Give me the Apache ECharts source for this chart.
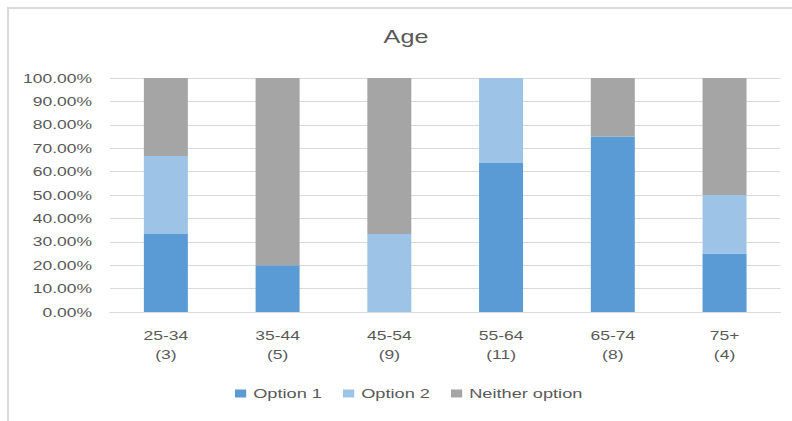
<!DOCTYPE html>
<html>
<head>
<meta charset="utf-8">
<script src="https://cdn.jsdelivr.net/npm/echarts@6/dist/echarts.min.js"></script>
<style>
  html, body { margin: 0; padding: 0; background: #fff; }
  /* The chart is laid out narrower and widened horizontally, which gives
     the broad, stretched lettering of the original figure. */
  #frame { width: 792px; height: 421px; overflow: hidden; position: relative; }
  #chart { width: 565.714px; height: 421px; transform: scaleX(1.4); transform-origin: 0 0; }
</style>
</head>
<body>
<div id="frame"><div id="chart"></div></div>
<script>
// Age groups with respondent counts
const categories = ['25-34\n(3)', '35-44\n(5)', '45-54\n(9)', '55-64\n(11)', '65-74\n(8)', '75+\n(4)'];
// Share of each answer per age group (percent)
const option1 = [33.33, 20, 0, 63.64, 75, 25];
const option2 = [33.33, 0, 33.33, 36.36, 0, 25];
const neither = [33.33, 80, 66.67, 0, 25, 50];
const yTicks = { min: 0, max: 100, interval: 10 };

const STRETCH = 1.4;            // horizontal widening applied by CSS
const px = v => v / STRETCH;    // convert on-screen x distances to layout units

const textColor = '#595959';
const font = 'Liberation Sans, Arial, sans-serif';

const chart = echarts.init(document.getElementById('chart'), null, { renderer: 'svg' });

function barSeries(name, data, color) {
  return {
    name: name,
    type: 'bar',
    stack: 'total',
    barWidth: px(44),
    data: data,
    itemStyle: { color: color },
    emphasis: { disabled: true }
  };
}

chart.setOption({
  animation: false,
  backgroundColor: '#fff',
  title: {
    text: 'Age',
    left: px(399),
    textAlign: 'center',
    top: 23,
    textStyle: { color: textColor, fontSize: 18, fontWeight: 'normal', fontFamily: font }
  },
  legend: {
    top: 382,
    left: px(228),
    itemWidth: 8,
    itemHeight: 8,
    itemGap: px(21),
    icon: 'rect',
    textStyle: { color: textColor, fontSize: 13, fontFamily: font },
    data: ['Option 1', 'Option 2', 'Neither option']
  },
  grid: { left: px(110), right: px(12), top: 78, bottom: 109 },
  xAxis: {
    type: 'category',
    data: categories,
    axisLine: { show: true, lineStyle: { color: '#D9D9D9', width: 1 } },
    axisTick: { show: false },
    axisLabel: { color: textColor, fontSize: 12.5, fontFamily: font, lineHeight: 19, margin: 14 }
  },
  yAxis: {
    type: 'value',
    min: yTicks.min,
    max: yTicks.max,
    interval: yTicks.interval,
    axisLine: { show: false },
    axisTick: { show: false },
    splitLine: { lineStyle: { color: '#D9D9D9', width: 1 } },
    axisLabel: {
      color: textColor, fontSize: 12.5, fontFamily: font, margin: px(18),
      formatter: v => v.toFixed(2) + '%'
    }
  },
  series: [
    barSeries('Option 1', option1, '#5B9BD5'),
    barSeries('Option 2', option2, '#9DC3E6'),
    barSeries('Neither option', neither, '#A5A5A5')
  ],
  graphic: [
    { type: 'rect', shape: { x: px(7), y: 7, width: px(2), height: 414 }, style: { fill: '#D9D9D9' } },
    { type: 'rect', shape: { x: px(7), y: 7, width: px(785), height: 2 }, style: { fill: '#D9D9D9' } }
  ]
});
</script>
</body>
</html>
